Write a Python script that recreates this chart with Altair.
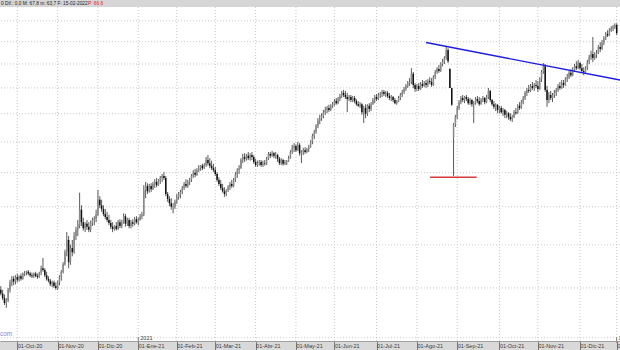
import altair as alt
import pandas as pd

# ---- daily OHLC (log price scale) ----
open_ = [
    34.8, 34.4, 33.9, 33.4, 33.7, 34.8, 35.6, 36.0, 35.7, 36.2,
    35.9, 36.3, 36.0, 36.6, 36.7, 36.8, 36.6, 36.4, 36.3, 36.6,
    36.3, 36.2, 36.7, 37.2, 37.0, 36.4, 36.0, 35.8, 35.4, 35.6,
    35.2, 35.0, 35.6, 36.2, 36.8, 37.7, 39.1, 40.6, 37.9, 39.6,
    39.1, 41.1, 41.9, 42.4, 44.6, 42.9, 42.1, 42.7, 42.3, 41.9,
    42.8, 43.2, 43.3, 44.0, 46.0, 45.2, 44.7, 44.0, 43.6, 43.2,
    42.8, 42.3, 42.0, 42.4, 42.0, 42.9, 42.4, 42.9, 43.7, 42.7,
    43.2, 42.4, 42.9, 42.7, 43.3, 42.9, 43.2, 43.7, 43.9, 47.4,
    48.0, 47.2, 48.0, 47.5, 48.3, 48.6, 48.1, 48.7, 49.2, 49.5,
    49.2, 46.8, 46.1, 45.5, 45.0, 45.1, 45.7, 46.4, 46.7, 47.1,
    47.7, 48.3, 48.0, 48.6, 48.9, 49.5, 50.0, 49.7, 50.4, 50.7,
    51.1, 50.7, 51.2, 52.0, 51.5, 51.1, 50.7, 50.4, 49.8, 48.9,
    48.3, 47.7, 47.2, 46.8, 47.4, 47.8, 48.3, 48.0, 48.9, 49.7,
    50.4, 50.7, 52.0, 52.5, 52.2, 52.7, 52.3, 52.8, 52.5, 51.7,
    51.2, 51.5, 51.7, 51.2, 51.5, 51.4, 52.2, 53.0, 52.7, 53.1,
    52.7, 52.8, 52.2, 51.5, 52.0, 51.4, 51.7, 51.9, 52.3, 53.3,
    54.0, 54.3, 53.6, 54.5, 53.1, 53.3, 53.6, 53.3, 53.8, 54.1,
    55.0, 56.0, 56.7, 57.8, 58.7, 59.2, 59.6, 60.3, 60.7, 61.1,
    60.7, 61.5, 61.8, 62.4, 62.0, 62.8, 63.4, 64.0, 63.6, 63.2,
    62.8, 63.2, 62.6, 63.0, 62.4, 61.8, 61.5, 61.8, 60.3, 61.1,
    60.0, 61.5, 60.9, 61.8, 62.6, 63.2, 62.8, 63.6, 63.8, 64.2,
    63.8, 64.0, 63.4, 63.0, 63.2, 62.6, 62.0, 62.4, 63.0, 63.6,
    64.2, 64.8, 65.4, 66.0, 66.2, 67.9, 65.6, 64.8, 65.4, 64.8,
    65.8, 65.4, 66.0, 65.6, 66.4, 66.2, 65.6, 67.2, 68.3, 68.9,
    68.5, 70.0, 70.6, 71.3, 73.1, 68.9, 65.0, 55.8, 58.0, 59.4,
    61.1, 62.2, 63.0, 62.6, 63.2, 62.8, 62.0, 62.6, 61.8, 62.0,
    62.8, 62.4, 61.8, 62.6, 63.0, 62.2, 63.2, 64.4, 62.6, 61.8,
    61.3, 61.7, 60.7, 61.1, 60.3, 60.7, 59.8, 60.1, 59.4, 59.0,
    59.4, 60.3, 60.1, 61.5, 61.1, 62.2, 63.0, 64.0, 64.6, 64.4,
    65.4, 65.0, 65.6, 65.4, 64.8, 66.8, 68.3, 69.5, 64.6, 62.6,
    63.6, 63.0, 63.6, 64.0, 64.6, 65.4, 65.0, 66.0, 65.6, 66.8,
    67.2, 68.1, 67.6, 68.7, 69.5, 69.1, 70.2, 69.1, 68.5, 68.3,
    69.1, 70.4, 71.5, 72.2, 71.3, 72.0, 72.4, 73.8, 73.3, 74.7,
    75.8, 76.8, 76.5, 77.7, 78.2, 78.5, 79.0,
]
high = [
    35.2, 34.8, 34.3, 33.9, 35.0, 35.9, 36.3, 36.3, 36.4, 36.6,
    36.4, 36.6, 36.7, 36.9, 36.9, 37.0, 36.8, 36.7, 36.7, 36.8,
    36.6, 36.8, 37.5, 38.4, 37.2, 36.8, 36.3, 36.0, 35.8, 35.8,
    35.6, 35.8, 36.4, 37.0, 37.9, 39.4, 41.6, 41.1, 40.0, 40.6,
    41.6, 42.3, 43.2, 47.0, 45.2, 43.5, 42.9, 43.2, 42.9, 43.1,
    43.5, 43.7, 44.6, 47.4, 46.5, 46.0, 45.2, 44.7, 44.3, 43.9,
    43.2, 42.9, 42.5, 42.9, 43.2, 43.3, 43.2, 44.1, 44.0, 43.5,
    43.5, 43.2, 43.3, 43.6, 43.7, 43.5, 44.0, 44.3, 48.1, 48.6,
    48.4, 48.3, 48.4, 48.6, 49.0, 49.2, 49.0, 49.5, 49.8, 50.1,
    49.5, 47.1, 46.5, 46.2, 45.5, 46.0, 46.8, 47.1, 47.4, 48.0,
    48.6, 49.0, 48.9, 49.2, 49.8, 50.4, 50.6, 50.7, 51.2, 51.2,
    51.4, 51.5, 52.5, 52.8, 52.3, 51.9, 51.4, 50.9, 50.1, 49.3,
    48.9, 48.3, 47.8, 47.5, 48.1, 48.6, 48.9, 49.2, 50.1, 50.7,
    51.2, 52.3, 53.0, 53.1, 53.0, 53.3, 53.1, 53.3, 52.8, 52.2,
    51.9, 52.0, 52.0, 51.9, 52.0, 52.5, 53.3, 53.3, 53.5, 53.3,
    53.3, 53.0, 52.5, 52.3, 52.2, 52.0, 52.0, 52.7, 53.6, 54.5,
    54.8, 54.6, 55.0, 54.8, 53.6, 54.0, 54.1, 54.0, 54.5, 55.3,
    56.4, 57.1, 58.1, 59.2, 59.8, 60.1, 60.7, 61.3, 61.5, 61.7,
    61.8, 62.2, 62.8, 63.0, 63.2, 63.8, 64.4, 64.6, 64.4, 64.0,
    63.6, 63.6, 63.4, 63.4, 62.8, 62.4, 62.2, 62.0, 61.5, 61.8,
    61.8, 62.0, 62.2, 63.0, 63.6, 63.8, 64.0, 64.2, 64.6, 64.6,
    64.4, 64.4, 64.0, 63.6, 63.4, 63.0, 62.6, 63.4, 64.0, 64.6,
    65.2, 65.8, 66.4, 67.0, 69.1, 68.3, 66.0, 65.8, 66.0, 66.2,
    66.6, 66.4, 66.6, 66.8, 67.2, 67.0, 67.6, 68.7, 69.3, 69.8,
    70.4, 71.1, 71.7, 73.8, 73.5, 69.1, 65.0, 58.3, 59.8, 61.5,
    62.6, 63.4, 63.6, 63.4, 63.6, 63.2, 63.0, 62.8, 62.4, 63.2,
    63.4, 63.2, 63.0, 63.4, 63.2, 63.6, 65.0, 64.6, 62.8, 62.4,
    62.0, 61.8, 61.5, 61.5, 61.1, 60.9, 60.5, 60.3, 60.1, 59.8,
    60.7, 61.1, 61.8, 62.2, 62.6, 63.4, 64.4, 65.0, 65.6, 65.8,
    66.2, 66.0, 66.6, 66.4, 67.2, 68.7, 70.2, 70.0, 65.4, 64.2,
    64.4, 64.0, 64.6, 65.0, 65.8, 66.2, 66.6, 66.6, 67.2, 67.9,
    68.5, 68.9, 69.3, 70.0, 70.6, 70.9, 70.4, 70.0, 69.3, 69.5,
    70.9, 72.0, 72.9, 76.1, 72.6, 73.1, 74.2, 74.9, 75.4, 76.3,
    77.3, 77.7, 78.2, 78.7, 79.0, 79.4, 79.4,
]
low = [
    34.2, 33.7, 33.2, 32.9, 33.5, 34.5, 35.2, 35.3, 35.4, 35.6,
    35.7, 35.8, 35.9, 36.3, 36.4, 36.4, 36.2, 36.1, 36.1, 36.2,
    36.0, 36.1, 36.4, 36.8, 36.2, 35.8, 35.6, 35.2, 35.1, 35.0,
    34.8, 34.8, 35.3, 35.8, 36.6, 37.5, 38.6, 37.2, 37.6, 38.6,
    38.9, 40.6, 41.1, 42.1, 42.4, 41.8, 41.6, 41.9, 41.6, 41.6,
    42.4, 42.5, 42.9, 43.7, 44.8, 44.3, 43.7, 43.3, 42.9, 42.5,
    42.0, 41.6, 41.8, 41.8, 41.9, 42.1, 42.1, 42.7, 42.3, 42.4,
    42.1, 42.1, 42.3, 42.5, 42.7, 42.5, 43.1, 43.3, 43.7, 46.2,
    46.8, 47.0, 47.1, 47.4, 47.7, 47.8, 48.0, 48.3, 48.6, 48.9,
    46.5, 45.7, 45.1, 44.6, 44.1, 44.7, 45.4, 46.0, 46.2, 46.8,
    47.4, 47.7, 47.7, 48.1, 48.6, 49.2, 49.3, 49.5, 50.1, 50.3,
    50.4, 50.6, 50.9, 51.1, 50.7, 50.4, 50.1, 49.5, 48.6, 48.0,
    47.4, 47.0, 46.4, 46.5, 47.1, 47.4, 47.7, 47.8, 48.6, 49.2,
    49.8, 50.6, 51.5, 51.7, 51.9, 52.0, 51.9, 52.0, 51.4, 50.9,
    50.9, 51.1, 50.9, 50.9, 51.1, 51.2, 52.0, 52.3, 52.5, 52.3,
    52.2, 51.7, 51.2, 51.2, 51.1, 51.2, 51.2, 51.7, 52.2, 53.0,
    53.3, 53.3, 53.5, 52.7, 51.5, 52.8, 53.0, 53.1, 53.3, 54.0,
    54.6, 55.5, 56.4, 57.4, 58.1, 58.7, 59.2, 59.8, 60.1, 60.3,
    60.5, 61.1, 61.5, 61.7, 61.8, 62.4, 63.0, 63.2, 62.8, 60.3,
    62.4, 62.2, 62.2, 62.0, 61.5, 61.3, 61.1, 59.8, 58.3, 59.2,
    59.6, 60.3, 60.5, 61.7, 62.0, 62.4, 62.6, 63.0, 63.2, 63.4,
    63.2, 63.0, 62.6, 62.4, 62.2, 61.8, 61.7, 62.2, 62.6, 63.2,
    63.8, 64.4, 65.0, 65.4, 65.8, 65.0, 64.2, 64.4, 64.4, 64.6,
    65.0, 65.2, 65.0, 65.2, 65.8, 65.2, 65.4, 66.8, 67.9, 68.1,
    68.3, 69.5, 70.0, 70.9, 70.2, 65.0, 61.5, 49.5, 57.6, 59.0,
    60.7, 61.8, 62.2, 62.0, 62.4, 61.7, 61.7, 61.3, 58.3, 61.7,
    62.0, 61.5, 61.7, 62.2, 61.8, 62.0, 62.8, 62.2, 61.5, 60.9,
    60.5, 60.1, 60.1, 60.0, 59.6, 59.2, 59.2, 58.9, 58.7, 58.5,
    59.2, 59.8, 60.0, 60.7, 60.9, 61.8, 62.6, 63.4, 64.0, 64.2,
    64.6, 64.4, 65.0, 64.2, 64.6, 66.2, 67.9, 64.2, 61.3, 62.0,
    62.6, 62.2, 63.0, 63.4, 64.2, 64.6, 64.8, 65.0, 65.4, 66.2,
    66.8, 67.2, 67.4, 68.3, 68.7, 68.9, 68.7, 68.1, 67.6, 68.1,
    68.7, 70.0, 70.9, 70.4, 70.9, 71.3, 72.2, 72.6, 73.1, 74.2,
    75.4, 76.1, 76.3, 77.3, 77.5, 78.0, 76.5,
]
close = [
    34.4, 33.9, 33.4, 33.7, 34.8, 35.6, 36.0, 35.7, 36.2, 35.9,
    36.3, 36.0, 36.6, 36.7, 36.8, 36.6, 36.4, 36.3, 36.6, 36.3,
    36.2, 36.7, 37.2, 37.0, 36.4, 36.0, 35.8, 35.4, 35.6, 35.2,
    35.0, 35.6, 36.2, 36.8, 37.7, 39.1, 40.6, 37.9, 39.6, 39.1,
    41.1, 41.9, 42.7, 44.6, 42.9, 42.1, 42.7, 42.3, 41.9, 42.8,
    43.2, 43.3, 44.0, 46.0, 45.2, 44.7, 44.0, 43.6, 43.2, 42.8,
    42.3, 42.0, 42.4, 42.0, 42.9, 42.4, 42.9, 43.7, 42.7, 43.2,
    42.4, 42.9, 42.7, 43.3, 42.9, 43.2, 43.7, 43.9, 47.4, 48.0,
    47.2, 48.0, 47.5, 48.3, 48.6, 48.1, 48.7, 49.2, 49.5, 49.2,
    46.8, 46.1, 45.5, 45.0, 45.1, 45.7, 46.4, 46.7, 47.1, 47.7,
    48.3, 48.0, 48.6, 48.9, 49.5, 50.0, 49.7, 50.4, 50.7, 51.1,
    50.7, 51.2, 52.0, 51.5, 51.1, 50.7, 50.4, 49.8, 48.9, 48.3,
    47.7, 47.2, 46.8, 47.4, 47.8, 48.3, 48.0, 48.9, 49.7, 50.4,
    50.7, 52.0, 52.5, 52.2, 52.7, 52.3, 52.8, 52.5, 51.7, 51.2,
    51.5, 51.7, 51.2, 51.5, 51.4, 52.2, 53.0, 52.7, 53.1, 52.7,
    52.8, 52.2, 51.5, 52.0, 51.4, 51.7, 51.9, 52.3, 53.3, 54.0,
    54.3, 53.6, 54.5, 53.1, 53.3, 53.6, 53.3, 53.8, 54.1, 55.0,
    56.0, 56.7, 57.8, 58.7, 59.2, 59.6, 60.3, 60.7, 61.1, 60.7,
    61.5, 61.8, 62.4, 62.0, 62.8, 63.4, 64.0, 63.6, 63.2, 62.8,
    63.2, 62.6, 63.0, 62.4, 61.8, 61.5, 61.8, 60.3, 61.1, 60.0,
    61.5, 60.9, 61.8, 62.6, 63.2, 62.8, 63.6, 63.8, 64.2, 63.8,
    64.0, 63.4, 63.0, 63.2, 62.6, 62.0, 62.4, 63.0, 63.6, 64.2,
    64.8, 65.4, 66.0, 66.2, 67.9, 65.6, 64.8, 65.4, 64.8, 65.8,
    65.4, 66.0, 65.6, 66.4, 66.2, 65.6, 67.2, 68.3, 68.9, 68.5,
    70.0, 70.6, 71.3, 73.1, 70.6, 65.0, 61.7, 58.0, 59.4, 61.1,
    62.2, 63.0, 62.6, 63.2, 62.8, 62.0, 62.6, 61.8, 62.0, 62.8,
    62.4, 61.8, 62.6, 63.0, 62.2, 63.2, 64.4, 62.6, 61.8, 61.3,
    61.7, 60.7, 61.1, 60.3, 60.7, 59.8, 60.1, 59.4, 59.0, 59.4,
    60.3, 60.1, 61.5, 61.1, 62.2, 63.0, 64.0, 64.6, 64.4, 65.4,
    65.0, 65.6, 65.4, 64.8, 66.8, 68.3, 69.5, 64.6, 62.6, 63.6,
    63.0, 63.6, 64.0, 64.6, 65.4, 65.0, 66.0, 65.6, 66.8, 67.2,
    68.1, 67.6, 68.7, 69.5, 69.1, 70.2, 69.1, 68.5, 68.3, 69.1,
    70.4, 71.5, 72.2, 71.3, 72.0, 72.4, 73.8, 73.3, 74.7, 75.8,
    76.8, 76.5, 77.7, 78.2, 78.5, 79.0, 77.0,
]

# month ticks (trading-session number) and their labels
month_ticks = [9, 31, 53, 75, 96, 117, 139, 161, 182, 205, 227, 249, 272, 293, 316, 336]
month_labels = ["01-Oct-20", "01-Nov-20", "01-Dic-20", "01-Ene-21", "01-Feb-21",
                "01-Mar-21", "01-Abr-21", "01-May-21", "01-Jun-21", "01-Jul-21",
                "01-Ago-21", "01-Sep-21", "01-Oct-21", "01-Nov-21", "01-Dic-21",
                "01-Ene-22"]
year_ticks = [75, 336]
year_labels = ["2021", "2022"]
price_grid = [30, 35, 40, 45, 50, 55, 60, 65, 70, 75, 80]

# drawn lines (session, price)
trend_i = [232.0, 337.8]
trend_p = [74.8, 66.6]
support_i = [234.2, 259.6]
support_p = [49.3, 49.3]

header_text = "0 Dif.: 0,0 M: 67,8 m: 63,7 F: 15-02-2022"
header_red = "P: 66,6"
watermark = "com"

n = len(close)
assert len(open_) == n and len(high) == n and len(low) == n, (len(open_), len(high), len(low), n)

df = pd.DataFrame({"i": list(range(n)), "open": open_, "high": high, "low": low, "close": close})
df["dir"] = ["up" if c >= o else "down" for o, c in zip(open_, close)]

W, H = 620, 334
xs = alt.Scale(domain=[-0.44, 337.8], nice=False, zero=False)
ys = alt.Scale(type="log", domain=[29.7, 83.5], nice=False, zero=False)

labels_js = "[" + ",".join(f"' {l}'" for l in month_labels) + "]"
ticks_js = "[" + ",".join(str(t) for t in month_ticks) + "]"
label_expr = f"{labels_js}[indexof({ticks_js}, datum.value)]"

xaxis = alt.Axis(values=month_ticks, labelExpr=label_expr, title=None, grid=False,
                 domainColor="#a0a0a0", tickColor="#7a7a7a", tickSize=9,
                 labelFont="Liberation Sans", labelFontSize=5.5, labelColor="#3c3c3c",
                 labelAlign="left", labelBaseline="middle", labelPadding=-4.5,
                 labelOverlap=False, labelBound=False, labelFlush=False, zindex=2)
X = alt.X("i:Q", scale=xs, axis=xaxis)

one = pd.DataFrame({"a": [0]})

band = alt.Chart(one).mark_rect(color="#d9d9d9").encode(
    x=alt.value(0), x2=alt.value(W), y=alt.value(H), y2=alt.value(H + 9))
head = alt.Chart(one).mark_rect(color="#d6d6d6").encode(
    x=alt.value(0), x2=alt.value(W), y=alt.value(-7), y2=alt.value(0))

vgrid = alt.Chart(pd.DataFrame({"i": month_ticks})).mark_rule(
    color="#c8c8c8", strokeDash=[1, 2], strokeWidth=1).encode(x=X)
hgrid = alt.Chart(pd.DataFrame({"p": price_grid})).mark_rule(
    color="#c8c8c8", strokeDash=[1, 2], strokeWidth=1).encode(
    y=alt.Y("p:Q", scale=ys, axis=None))

wicks = alt.Chart(df).mark_rule(color="#5a5a5a", strokeWidth=1).encode(
    x=X, y=alt.Y("low:Q", scale=ys, axis=None), y2="high:Q")
bodies = alt.Chart(df).mark_rule(strokeWidth=1.5).encode(
    x=X, y=alt.Y("open:Q", scale=ys, axis=None), y2="close:Q",
    color=alt.Color("dir:N", scale=alt.Scale(domain=["up", "down"], range=["#8a8a8a", "#111111"]),
                    legend=None))

trend = alt.Chart(pd.DataFrame({"i": trend_i, "p": trend_p})).mark_line(
    color="#1c1ce6", strokeWidth=1.4, clip=True).encode(x=X, y=alt.Y("p:Q", scale=ys, axis=None))
support = alt.Chart(pd.DataFrame({"i": support_i, "p": support_p})).mark_line(
    color="#d93a3a", strokeWidth=1.5, clip=True).encode(x=X, y=alt.Y("p:Q", scale=ys, axis=None))

htext = alt.Chart(pd.DataFrame({"t": [header_text]})).mark_text(
    align="left", baseline="middle", fontSize=4.8, font="Liberation Sans", color="#222222").encode(
    x=alt.value(1), y=alt.value(-3.5), text="t:N")
hred = alt.Chart(pd.DataFrame({"t": [header_red]})).mark_text(
    align="left", baseline="middle", fontSize=4.8, font="Liberation Sans", color="#e02020").encode(
    x=alt.value(88), y=alt.value(-3.5), text="t:N")

ydf = pd.DataFrame({"i": year_ticks, "t": year_labels})
ytick = alt.Chart(ydf).mark_rule(color="#7a7a7a", strokeWidth=1).encode(
    x=X, y=alt.value(H - 4), y2=alt.value(H + 2))
ytext = alt.Chart(ydf).mark_text(
    align="left", baseline="middle", fontSize=5.5, font="Liberation Sans", color="#3c3c3c", dx=2).encode(
    x=X, y=alt.value(H - 3.5), text="t:N")

wm = alt.Chart(pd.DataFrame({"t": [watermark]})).mark_text(
    align="left", baseline="middle", fontSize=6.5, font="Liberation Sans", color="#8a8ad2").encode(
    x=alt.value(0), y=alt.value(H - 7), text="t:N")

chart = alt.layer(band, head, vgrid, hgrid, wicks, bodies, trend, support,
                  htext, hred, ytick, ytext, wm).properties(
    width=W, height=H,
    padding={"left": 0, "top": 7, "right": 0, "bottom": 9},
    autosize=alt.AutoSizeParams(type="none"),
    background="white",
).configure_view(stroke=None)

chart.save("out.html", embed_options={"renderer": "svg", "actions": False})
